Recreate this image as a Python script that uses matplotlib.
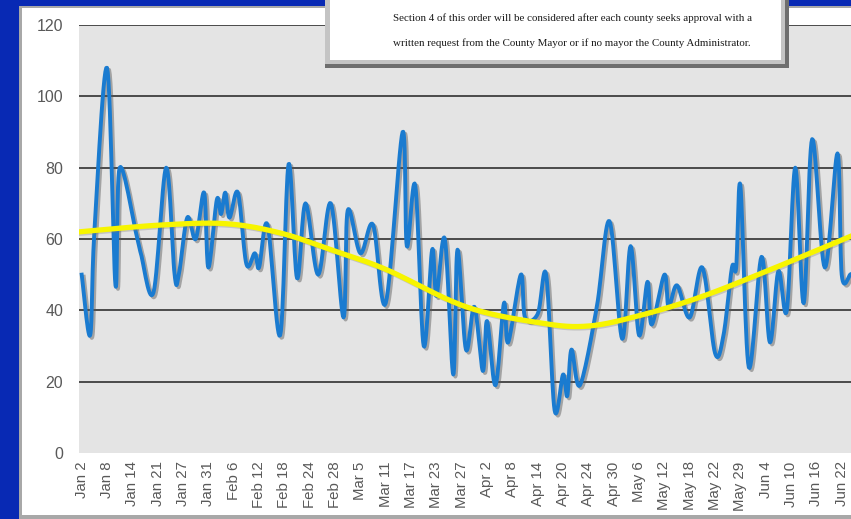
import numpy as np
import matplotlib.pyplot as plt
from matplotlib.patches import Rectangle
import matplotlib.patheffects as pe

# tick labels, one every 6 categories
labels = ["Jan 2", "Jan 8", "Jan 14", "Jan 21", "Jan 27", "Jan 31", "Feb 6", "Feb 12",
          "Feb 18", "Feb 24", "Feb 28", "Mar 5", "Mar 11", "Mar 17", "Mar 23", "Mar 27",
          "Apr 2", "Apr 8", "Apr 14", "Apr 20", "Apr 24", "Apr 30", "May 6", "May 12",
          "May 18", "May 22", "May 29", "Jun 4", "Jun 10", "Jun 16", "Jun 22"]
label_step = 6

# series vertices (category index, value)
day_idx = [0, 2, 3, 6, 8, 9, 13, 14, 17, 20, 22, 23, 25, 27, 29, 30, 32, 33, 34, 35,
           37, 39, 41, 42, 44, 47, 49, 51, 53, 56, 59, 62, 63, 66, 69, 72, 76, 77, 79, 81,
           83, 84, 86, 88, 89, 91, 93, 95, 96, 98, 100, 101, 104, 105, 108, 110, 112, 114, 115, 116,
           118, 122, 125, 128, 130, 132, 134, 135, 138, 139, 141, 144, 147, 150, 152, 154, 155, 156,
           158, 161, 163, 165, 167, 169, 171, 173, 176, 179, 180, 182]
cases = [50, 33, 62, 108, 47, 80, 61, 56, 45, 80, 50, 50, 66, 60, 73, 52, 71, 67, 73, 66,
         73, 53, 56, 52, 64, 33, 81, 49, 70, 50, 70, 38, 68, 56, 64, 42, 90, 58, 75, 30,
         57, 44, 60, 22, 57, 29, 41, 23, 37, 19, 42, 31, 50, 38, 39, 50, 12, 22, 16, 29,
         19, 41, 65, 32, 58, 33, 48, 36, 50, 41, 47, 38, 52, 28, 33, 52, 52, 75,
         24, 55, 31, 51, 40, 80, 42, 88, 52, 84, 50, 50]

# yellow trend line
trend_idx = [-0.6, 18.5, 34, 47, 59, 72, 91, 109, 120, 132, 146, 161, 182.2]
trend_val = [62, 63.9, 64.3, 61.7, 57, 51.5, 41, 36.4, 35.6, 38.5, 43.5, 50.4, 60.8]


def smooth(xs, ys, n=14):
    p = np.column_stack([xs, ys]).astype(float)
    p = np.vstack([p[0], p, p[-1]])
    t = np.linspace(0, 1, n, endpoint=False)[:, None]
    out = []
    for i in range(1, len(p) - 2):
        p0, p1, p2, p3 = p[i - 1], p[i], p[i + 1], p[i + 2]
        out.append(0.5 * (2 * p1 + (p2 - p0) * t
                          + (2 * p0 - 5 * p1 + 4 * p2 - p3) * t ** 2
                          + (-p0 + 3 * p1 - 3 * p2 + p3) * t ** 3))
    out.append(p[-2][None])
    out = np.vstack(out)
    return out[:, 0], out[:, 1]


W, H = 851, 519
fig = plt.figure(figsize=(W / 100, H / 100), dpi=100)
fig.patch.set_facecolor('#0829b4')


def box(x0, y0, x1, y1, **kw):
    # pixel box (top-left origin) -> figure rectangle
    fig.add_artist(Rectangle((x0 / W, 1 - y1 / H), (x1 - x0) / W, (y1 - y0) / H,
                             transform=fig.transFigure, **kw))


# white slide panel with soft edge
box(19, 6, 860, 522, facecolor='#a8a8a8', edgecolor='none', zorder=-6)
box(22, 8, 860, 515, facecolor='white', edgecolor='none', zorder=-5)

ax = fig.add_axes([79 / W, 1 - 453 / H, 1 - 79 / W, (453 - 25) / H])
ax.set_facecolor('#e4e4e4')
for s in ax.spines.values():
    s.set_visible(False)

yt = np.arange(0, 121, 20)
ax.set_yticks(yt)
ax.set_yticklabels([str(v) for v in yt], color='#595959', fontsize=11.5,
                   fontfamily='Liberation Sans')
for v in yt[1:]:
    ax.axhline(v, color='#4a4a4a', lw=1.4, zorder=1)

ax.set_xticks(np.arange(len(labels)) * label_step)
ax.set_xticklabels(labels, rotation=90, color='#595959', fontsize=10.8,
                   fontfamily='Liberation Sans')
ax.tick_params(length=0)
ax.tick_params(axis='y', pad=11.5)
ax.tick_params(axis='x', pad=6)
ax.set_xlim(-0.64, 182.2)
ax.set_ylim(0, 120)

sx, sy = smooth(day_idx, cases)
ax.plot(sx, sy, color='#1a7bd0', lw=2.8, solid_joinstyle='round', zorder=3,
        path_effects=[pe.SimpleLineShadow(offset=(1.5, -1.5), shadow_color='#555555', alpha=0.45),
                      pe.Normal()])

tx, ty = smooth(trend_idx, trend_val, n=30)
ax.plot(tx, ty, color='#f7f500', lw=3.8, zorder=4,
        path_effects=[pe.SimpleLineShadow(offset=(1, -1), shadow_color='#777777', alpha=0.3),
                      pe.Normal()])

# quoted order text box on top
box(325, -5, 789, 68, facecolor='#6e6e6e', edgecolor='none', zorder=5)
box(325, -5, 785, 64, facecolor='#c4c4c4', edgecolor='none', zorder=6)
box(330, -5, 781, 60, facecolor='white', edgecolor='none', zorder=7)
fig.text(393 / W, 1 - 18 / H,
         "Section 4 of this order will be considered after each county seeks approval with a",
         fontsize=7.9, fontfamily='Liberation Serif', color='#1a1a1a', va='center', ha='left', zorder=8)
fig.text(393 / W, 1 - 43 / H,
         "written request from the County Mayor or if no mayor the County Administrator.",
         fontsize=7.9, fontfamily='Liberation Serif', color='#1a1a1a', va='center', ha='left', zorder=8)

fig.savefig('out.png', dpi=100, facecolor=fig.get_facecolor())
